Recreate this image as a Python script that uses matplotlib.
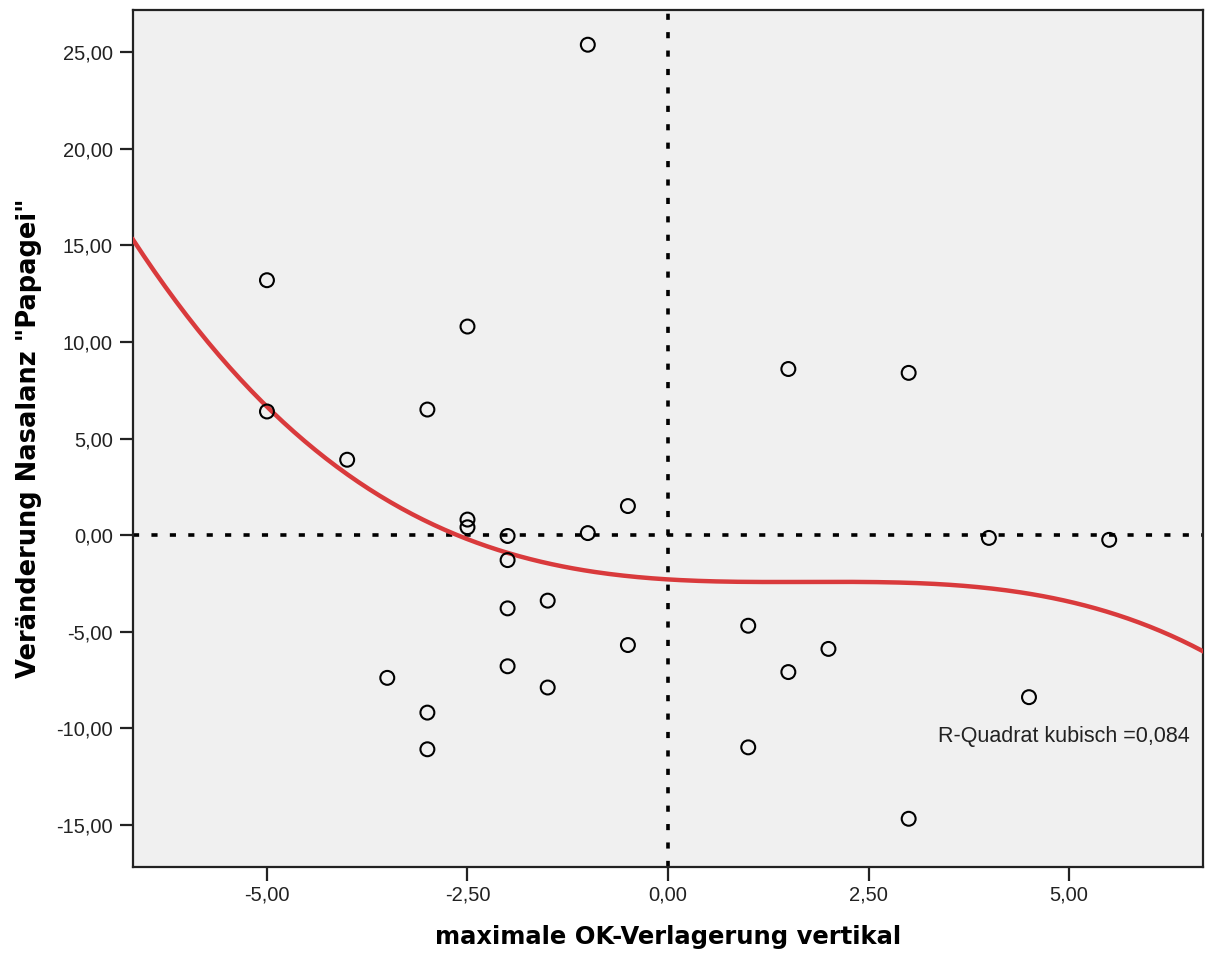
import matplotlib
matplotlib.use("Agg")
import matplotlib.pyplot as plt
import numpy as np
from matplotlib.ticker import FuncFormatter

# data
ok_vertical = [-1.0, -5.0, -5.0, -4.0, -3.0, -2.5, -2.5, -2.5, -2.0, -2.0, -2.0, -2.0,
               -1.5, -1.5, -1.0, -0.5, -0.5, -3.5, -3.0, -3.0, 1.0, 1.0, 1.5, 1.5,
               2.0, 3.0, 3.0, 4.0, 4.5, 5.5]
nasalanz = [25.4, 13.2, 6.4, 3.9, 6.5, 10.8, 0.8, 0.4, -0.05, -1.3, -3.8, -6.8,
            -3.4, -7.9, 0.1, 1.5, -5.7, -7.4, -9.2, -11.1, -4.7, -11.0, 8.6, -7.1,
            -5.9, 8.4, -14.7, -0.15, -8.4, -0.25]
# cubic fit coefficients (highest power first)
cubic_coef = [-0.0302, 0.156, -0.255, -2.3]
r2_label = "R-Quadrat kubisch =0,084"

x_ticks = [-5.0, -2.5, 0.0, 2.5, 5.0]
y_ticks = [-15, -10, -5, 0, 5, 10, 15, 20, 25]

fig = plt.figure(figsize=(12.08, 9.59), dpi=100)
ax = fig.add_axes([0.1101, 0.0959, 0.8858, 0.8937])
ax.set_facecolor("#f0f0f0")

ax.set_xlim(-6.67, 6.67)
ax.set_ylim(-17.2, 27.2)

ax.axhline(0, color="black", lw=2.6, ls=(0, (1.7, 3.4)), zorder=2)
ax.axvline(0, color="black", lw=2.6, ls=(0, (1.7, 3.4)), zorder=2)

xs = np.linspace(-6.67, 6.67, 300)
ax.plot(xs, np.polyval(cubic_coef, xs), color="#d93a3c", lw=3.2, zorder=3)

ax.scatter(ok_vertical, nasalanz, s=100, facecolors="none", edgecolors="black",
           linewidths=1.5, zorder=4)

ax.text(3.37, -10.46, r2_label, fontsize=15.5, family="Liberation Sans",
        color="#222222", va="center", ha="left")

fmt = FuncFormatter(lambda v, p: f"{v:.2f}".replace(".", ","))
ax.set_xticks(x_ticks)
ax.set_yticks(y_ticks)
ax.xaxis.set_major_formatter(fmt)
ax.yaxis.set_major_formatter(fmt)
ax.tick_params(axis="x", direction="out", length=10, width=1.6, pad=3,
               labelsize=14.5, labelcolor="#222222", color="#222222")
ax.tick_params(axis="y", direction="out", length=9.5, width=1.6, pad=5,
               labelsize=14.5, labelcolor="#222222", color="#222222")
for lab in ax.get_xticklabels() + ax.get_yticklabels():
    lab.set_family("Liberation Sans")
for sp in ax.spines.values():
    sp.set_linewidth(1.6)
    sp.set_color("#222222")

ax.set_xlabel("maximale OK-Verlagerung vertikal", fontsize=17.5, fontweight="bold",
              family="DejaVu Sans", labelpad=15)
ax.set_ylabel('Veränderung Nasalanz "Papagei"', fontsize=18.5, fontweight="bold",
              family="DejaVu Sans", labelpad=10)

fig.savefig("out.png", dpi=100)
